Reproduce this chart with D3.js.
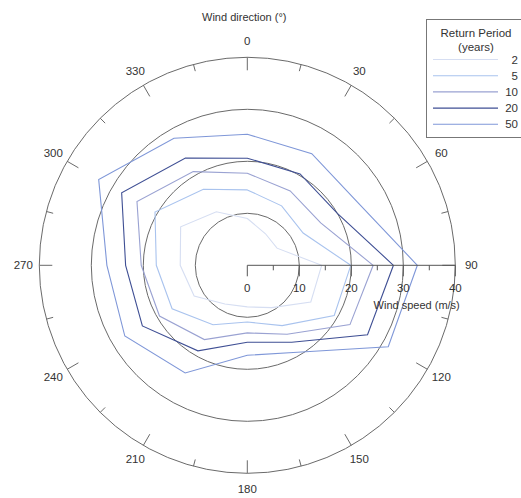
<!DOCTYPE html>
<html>
<head>
<meta charset="utf-8">
<script src="https://cdn.jsdelivr.net/npm/d3@7"></script>
<style>
  body { margin: 0; background: #fff; }
  #chart { width: 521px; height: 498px; }
  text { font-family: "Liberation Sans", Arial, sans-serif; fill: #333; }
</style>
</head>
<body>
<div id="chart"></div>
<script>
// wind direction sectors (degrees, clockwise from north)
const directions = [0, 30, 60, 90, 120, 150, 180, 210, 240, 270, 300, 330];

// return period labels
const periods = ['2', '5', '10', '20', '50'];

// extreme wind speed (m/s) per direction, one array per return period
const speed2  = [9.0, 7.0, 6.6, 14.3, 14.1, 9.4, 8.0, 8.6, 11.8, 12.9, 14.8, 11.9];
const speed5  = [14.5, 13.2, 12.4, 19.9, 19.3, 13.4, 10.9, 13.2, 16.7, 17.5, 20.5, 16.9];
const speed10 = [17.7, 16.5, 16.3, 24.2, 22.8, 15.3, 13.0, 16.5, 19.5, 20.4, 24.5, 20.8];
const speed20 = [20.6, 20.3, 20.0, 28.1, 26.7, 17.1, 14.8, 19.0, 23.3, 23.4, 27.9, 23.8];
const speed50 = [25.2, 24.8, 24.4, 32.7, 31.3, 19.3, 17.3, 23.9, 27.2, 27.0, 33.0, 28.2];

// axis ticks
const speedTicks = [0, 10, 20, 30, 40];
const gridSpeeds = [10, 20, 30];
const angleTicks = d3.range(0, 360, 30);

const seriesColors = ['#d6def2', '#a9c3ee', '#9aa2d2', '#3f4f94', '#7f97d8'];

class PolarChart {

    constructor(_config, _data) {
        this.config = {
            parentElement: _config.parentElement,
            cx: 247.3,
            cy: 265.3,
            radius: 208,
            labelRadius: 224
        }
        this.data = _data;
        this.initVis();
    }

    initVis() {
        let vis = this;
        const c = vis.config;

        vis.svg = d3.select(c.parentElement).append('svg')
            .attr('width', 521)
            .attr('height', 498);

        vis.chart = vis.svg.append('g')
            .attr('transform', `translate(${c.cx},${c.cy})`);

        vis.rScale = d3.scaleLinear().domain([0, 40]).range([0, c.radius]);
        // 0 deg at top, clockwise
        vis.aScale = d3.scaleLinear().domain([0, 360]).range([0, 2 * Math.PI]);

        vis.updateVis();
    }

    updateVis() {
        let vis = this;
        const c = vis.config;
        const px = (a, r) => Math.sin(vis.aScale(a)) * r;
        const py = (a, r) => -Math.cos(vis.aScale(a)) * r;

        // speed grid circles
        vis.chart.selectAll('.grid')
            .data(gridSpeeds)
            .join('circle')
            .attr('class', 'grid')
            .attr('r', d => vis.rScale(d))
            .attr('fill', 'none')
            .attr('stroke', '#6a6a6a')
            .attr('stroke-width', 1);

        // outer angular axis
        vis.chart.append('circle')
            .attr('r', c.radius)
            .attr('fill', 'none')
            .attr('stroke', '#6a6a6a')
            .attr('stroke-width', 1);

        // angular ticks (inward), major every 30, minor every 15
        vis.chart.selectAll('.atick')
            .data(d3.range(0, 360, 15))
            .join('line')
            .attr('class', 'atick')
            .attr('x1', d => px(d, c.radius))
            .attr('y1', d => py(d, c.radius))
            .attr('x2', d => px(d, c.radius - (d % 30 === 0 ? 13 : 7)))
            .attr('y2', d => py(d, c.radius - (d % 30 === 0 ? 13 : 7)))
            .attr('stroke', '#6a6a6a');

        vis.chart.selectAll('.alabel')
            .data(angleTicks)
            .join('text')
            .attr('class', 'alabel')
            .attr('x', d => px(d, c.labelRadius))
            .attr('y', d => py(d, c.labelRadius))
            .attr('text-anchor', 'middle')
            .attr('dominant-baseline', 'central')
            .style('font-size', '11.5px')
            .text(d => d);

        // series polygons
        const line = d3.lineRadial()
            .angle(d => vis.aScale(d.dir))
            .radius(d => vis.rScale(d.speed))
            .curve(d3.curveLinearClosed);

        vis.chart.selectAll('.series')
            .data(vis.data)
            .join('path')
            .attr('class', 'series')
            .attr('d', s => line(directions.map((dir, i) => ({dir: dir, speed: s.values[i]}))))
            .attr('fill', 'none')
            .attr('stroke', (s, i) => seriesColors[i])
            .attr('stroke-width', 1.1);

        // radial speed axis along 90 deg
        const axis = vis.chart.append('g');
        axis.append('line')
            .attr('x1', 0).attr('x2', vis.rScale(40))
            .attr('stroke', '#555');
        axis.selectAll('.rtick')
            .data(d3.range(0, 41, 5))
            .join('line')
            .attr('class', 'rtick')
            .attr('x1', d => vis.rScale(d)).attr('x2', d => vis.rScale(d))
            .attr('y1', 0).attr('y2', d => d % 10 === 0 ? 11 : 5)
            .attr('stroke', '#555');
        axis.selectAll('.rlabel')
            .data(speedTicks)
            .join('text')
            .attr('class', 'rlabel')
            .attr('x', d => vis.rScale(d))
            .attr('y', 27)
            .attr('text-anchor', 'middle')
            .style('font-size', '11.5px')
            .text(d => d);
        axis.append('text')
            .attr('x', 169.4)
            .attr('y', 44)
            .attr('text-anchor', 'middle')
            .style('font-size', '11px')
            .text('Wind speed (m/s)');

        // title
        vis.svg.append('text')
            .attr('x', 244.3)
            .attr('y', 21)
            .attr('text-anchor', 'middle')
            .style('font-size', '11px')
            .text('Wind direction (°)');

        // legend
        const legend = vis.svg.append('g');
        legend.append('rect')
            .attr('x', 426.5).attr('y', 19.5)
            .attr('width', 100).attr('height', 118)
            .attr('fill', '#fff')
            .attr('stroke', '#777');
        legend.append('text')
            .attr('x', 476).attr('y', 37)
            .attr('text-anchor', 'middle')
            .style('font-size', '11.5px')
            .text('Return Period');
        legend.append('text')
            .attr('x', 476).attr('y', 51)
            .attr('text-anchor', 'middle')
            .style('font-size', '11.5px')
            .text('(years)');
        const items = legend.selectAll('.item')
            .data(vis.data)
            .join('g')
            .attr('class', 'item')
            .attr('transform', (d, i) => `translate(0,${59.5 + i * 16.2})`);
        items.append('line')
            .attr('x1', 433).attr('x2', 498)
            .attr('stroke', (d, i) => seriesColors[i])
            .attr('stroke-width', 1.1);
        items.append('text')
            .attr('x', 518).attr('y', 0)
            .attr('text-anchor', 'end')
            .attr('dominant-baseline', 'central')
            .style('font-size', '11.5px')
            .text(d => d.period);
    }
}

const seriesData = [speed2, speed5, speed10, speed20, speed50]
    .map((values, i) => ({period: periods[i], values: values}));

new PolarChart({parentElement: '#chart'}, seriesData);
</script>
</body>
</html>
